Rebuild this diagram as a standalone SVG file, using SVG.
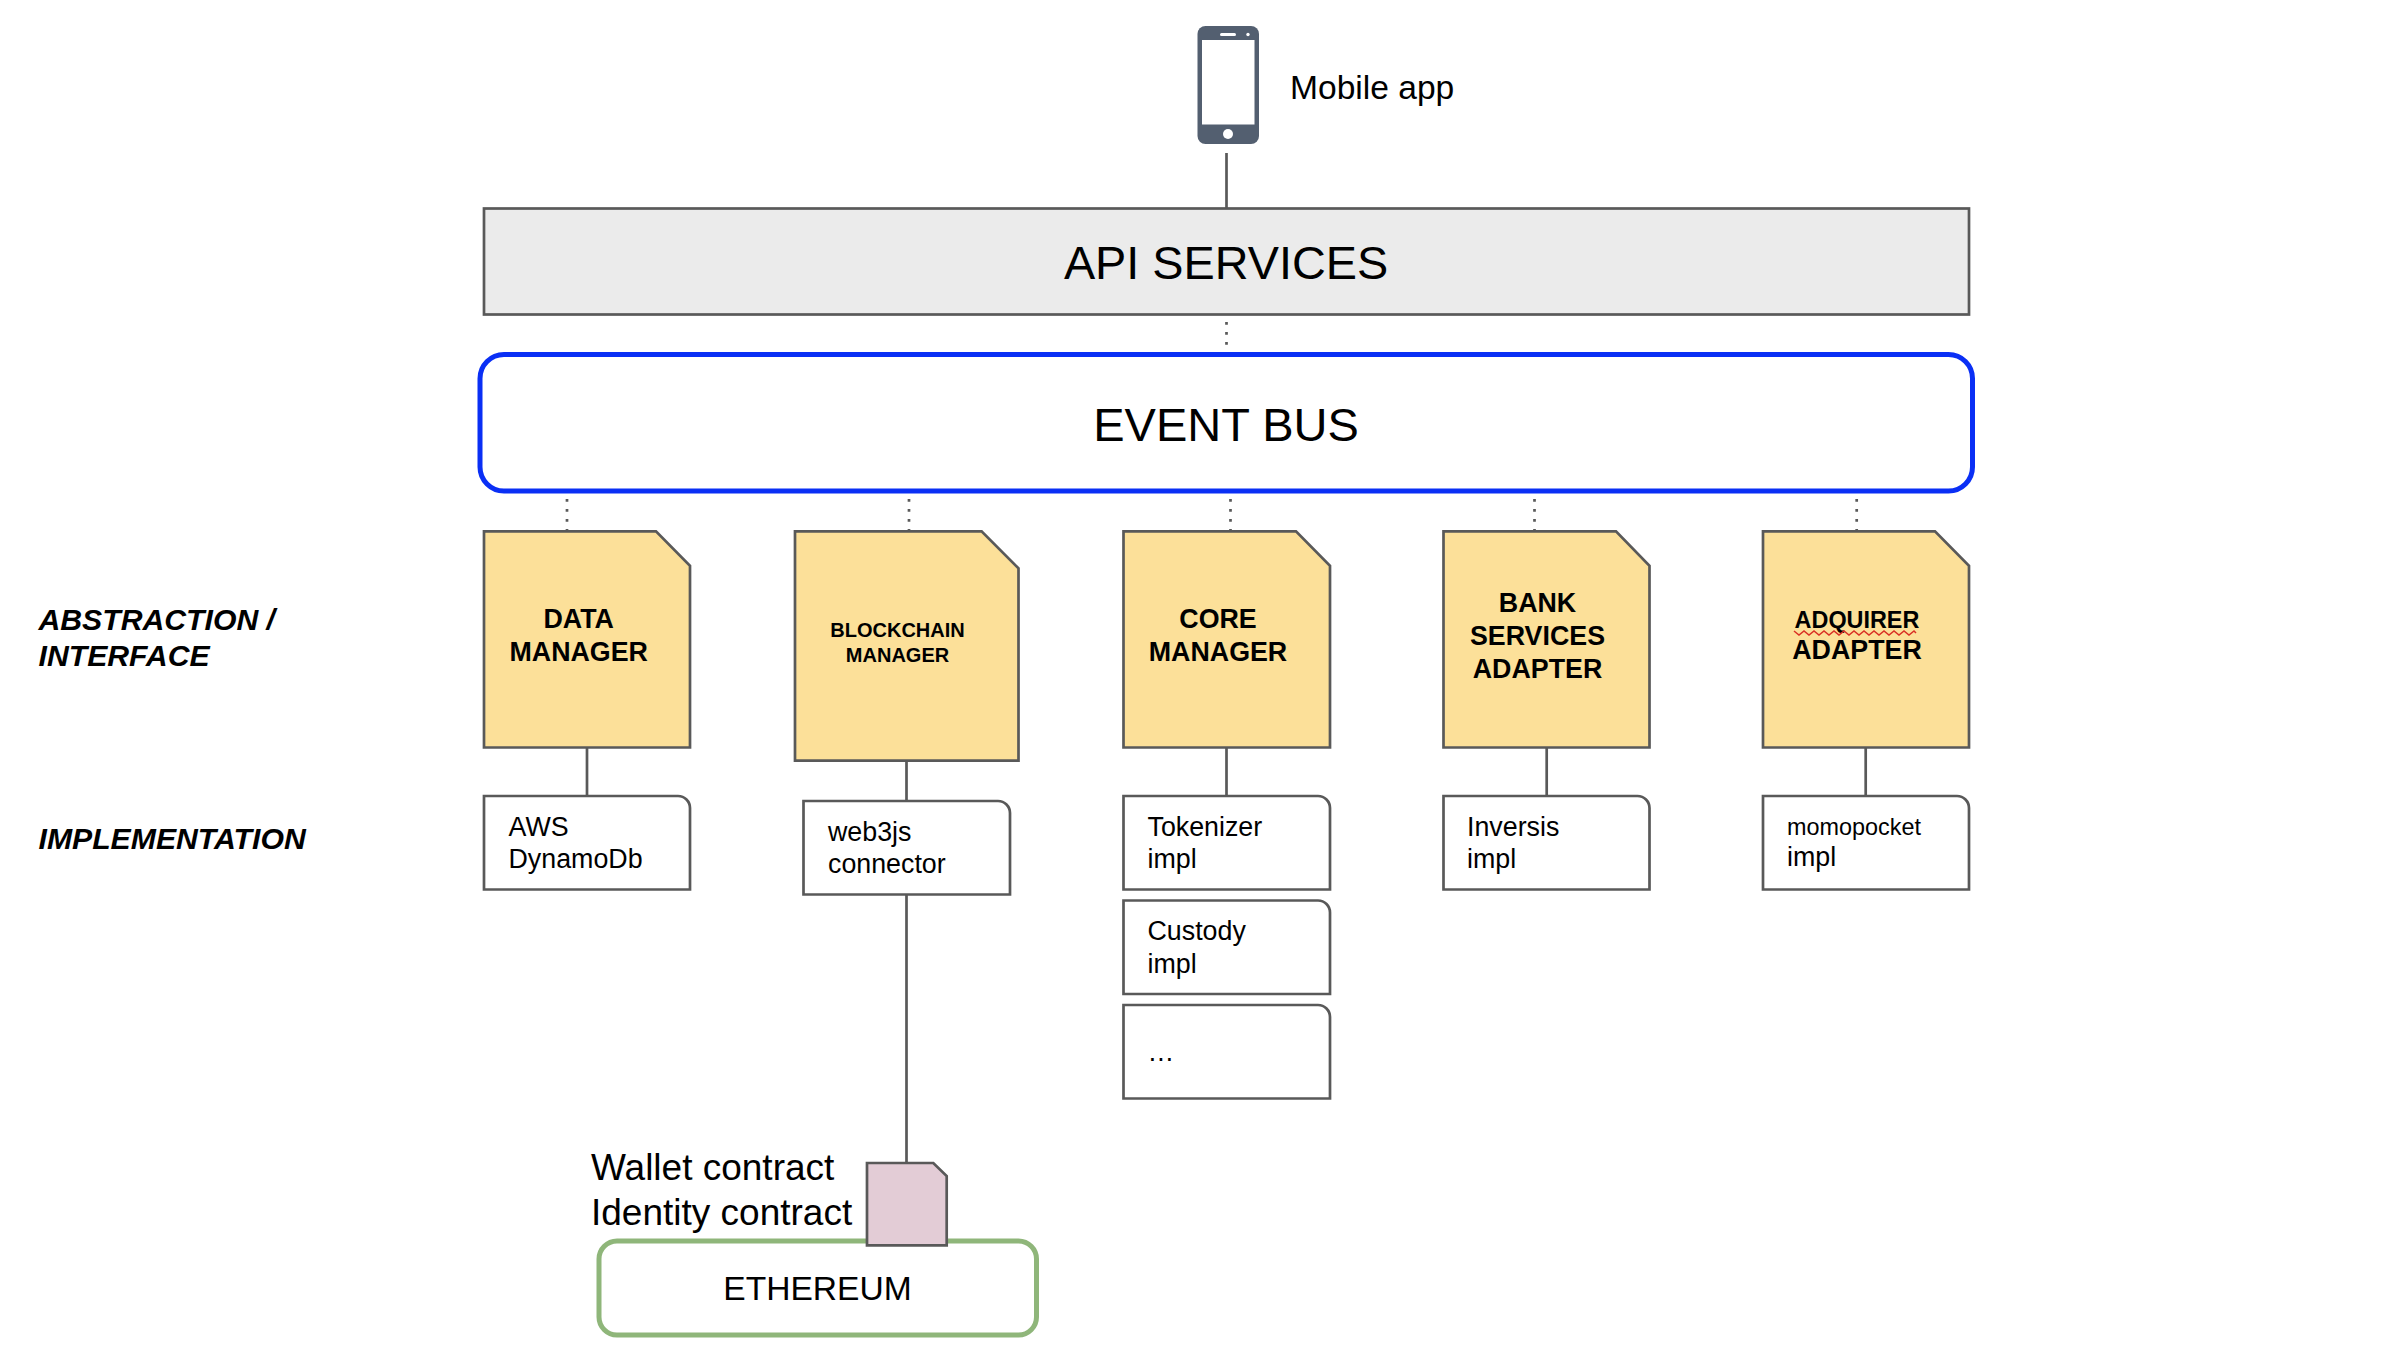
<svg xmlns="http://www.w3.org/2000/svg" width="2408" height="1356" viewBox="0 0 2408 1356">
<style>
text{font-family:"Liberation Sans",Arial,sans-serif;fill:#000}
.s{stroke:#595959;stroke-width:2.7;stroke-linejoin:miter}
.doc{fill:#fce099}
.impl{fill:#fff}
.c{stroke:#595959;stroke-width:2.7;fill:none}
.d{stroke:#595959;stroke-width:2.7;fill:none;stroke-dasharray:2.7 7.3}
.m{text-anchor:middle}
.b{font-weight:700;font-size:26.8px;text-anchor:middle}
.t{font-size:26.8px}
.l{font-weight:700;font-style:italic;font-size:30.2px}
</style>
<rect width="2408" height="1356" fill="#fff"/>
<g id="connectors">
<path class="c" d="M1226.500 153V208"/>
<path class="d" d="M1226.500 322V356"/>
<path class="d" d="M567 499V531M909 499V531M1230.500 499V531M1534.500 499V531M1856.700 499V531"/>
<path class="c" d="M587 747V796M906.500 761V801M1226.500 747V796M1546.700 747V796M1865.700 747V796M906.500 894V1163"/>
</g>
<g id="mobile-app">
<rect x="1197.500" y="26" width="61.500" height="118" rx="8" fill="#535f70"/>
<rect x="1202" y="40" width="52.500" height="84.500" fill="#fff"/>
<rect x="1220" y="33" width="16" height="3" rx="1.500" fill="#fff"/>
<circle cx="1248" cy="34.500" r="1.700" fill="#fff"/>
<circle cx="1228" cy="134" r="5" fill="#fff"/>
<text x="1290" y="98.500" font-size="33.600">Mobile app</text>
</g>
<g id="api-services">
<rect class="s" x="484" y="208.500" width="1485" height="106" fill="#ebebeb"/>
<text class="m" x="1226" y="278.500" font-size="46.800">API SERVICES</text>
</g>
<g id="event-bus">
<rect x="480" y="354.500" width="1492.500" height="136.500" rx="24" fill="#fff" stroke="#0a2ff5" stroke-width="5"/>
<text class="m" x="1226" y="440.700" font-size="47">EVENT BUS</text>
</g>
<g id="data-manager">
<path class="s doc" d="M484 531.300H656L690 565.700V747.500H484Z"/>
<text class="b" x="578.700" y="627.700">DATA</text><text class="b" x="578.700" y="660.700">MANAGER</text>
</g>
<g id="blockchain-manager">
<path class="s doc" d="M795 531.300H981.600L1018.500 568.300V760.700H795Z"/>
<text class="b" style="font-size:20px" x="897.500" y="636.700">BLOCKCHAIN</text><text class="b" style="font-size:20px" x="897.500" y="661.700">MANAGER</text>
</g>
<g id="core-manager">
<path class="s doc" d="M1123.500 531.300H1296L1330 565.700V747.500H1123.500Z"/>
<text class="b" x="1218" y="627.700">CORE</text><text class="b" x="1218" y="660.700">MANAGER</text>
</g>
<g id="bank-services-adapter">
<path class="s doc" d="M1443.500 531.300H1616L1649.500 565.700V747.500H1443.500Z"/>
<text class="b" x="1537.500" y="611.500">BANK</text><text class="b" x="1537.500" y="644.500">SERVICES</text><text class="b" x="1537.500" y="677.500">ADAPTER</text>
</g>
<g id="adquirer-adapter">
<path class="s doc" d="M1763 531.300H1935L1969 565.700V747.500H1763Z"/>
<text class="b" style="font-size:23.400px" x="1857" y="627.500">ADQUIRER</text>
<polyline fill="none" stroke="#d93025" stroke-width="1.500" points="1794,631 1799,635 1804,631 1809,635 1814,631 1819,635 1824,631 1829,635 1834,631 1839,635 1844,631 1849,635 1854,631 1859,635 1864,631 1869,635 1874,631 1879,635 1884,631 1889,635 1894,631 1899,635 1904,631 1909,635 1914,631 1916,633"/>
<text class="b" x="1857" y="659">ADAPTER</text>
</g>
<g id="aws-dynamodb">
<path class="s impl" d="M484 796H678A12 12 0 0 1 690 808V889.500H484Z"/>
<text class="t" x="508.500" y="836">AWS</text><text class="t" x="508.500" y="868">DynamoDb</text>
</g>
<g id="web3js-connector">
<path class="s impl" d="M803.500 801H998A12 12 0 0 1 1010 813V894.500H803.500Z"/>
<text class="t" x="828" y="841">web3js</text><text class="t" x="828" y="873">connector</text>
</g>
<g id="tokenizer-impl">
<path class="s impl" d="M1123.500 796H1318A12 12 0 0 1 1330 808V889.500H1123.500Z"/>
<text class="t" x="1147.500" y="836">Tokenizer</text><text class="t" x="1147.500" y="868">impl</text>
</g>
<g id="custody-impl">
<path class="s impl" d="M1123.500 900.500H1318A12 12 0 0 1 1330 912.500V994H1123.500Z"/>
<text class="t" x="1147.500" y="939.500">Custody</text><text class="t" x="1147.500" y="973">impl</text>
</g>
<g id="more-impl">
<path class="s impl" d="M1123.500 1005H1318A12 12 0 0 1 1330 1017V1098.500H1123.500Z"/>
<text class="t" x="1147.500" y="1061">…</text>
</g>
<g id="inversis-impl">
<path class="s impl" d="M1443.500 796H1637.500A12 12 0 0 1 1649.500 808V889.500H1443.500Z"/>
<text class="t" x="1467" y="836">Inversis</text><text class="t" x="1467" y="868">impl</text>
</g>
<g id="momopocket-impl">
<path class="s impl" d="M1763 796H1957A12 12 0 0 1 1969 808V889.500H1763Z"/>
<text class="t" style="font-size:23.400px" x="1787" y="835">momopocket</text><text class="t" x="1787" y="866">impl</text>
</g>
<g id="ethereum">
<rect x="599" y="1241" width="437.500" height="94" rx="18" fill="#fff" stroke="#8fb67a" stroke-width="5"/>
<text class="m" x="817.500" y="1300" font-size="33.600">ETHEREUM</text>
</g>
<g id="contracts">
<path class="s" fill="#e3ccd6" d="M867 1163H933.300L946.700 1176V1245.300H867Z"/>
<text x="591" y="1180" font-size="37">Wallet contract</text>
<text x="591" y="1225" font-size="37">Identity contract</text>
</g>
<g id="labels">
<text class="l" x="38.500" y="630">ABSTRACTION /</text>
<text class="l" x="38.500" y="666">INTERFACE</text>
<text class="l" x="38.500" y="848.700">IMPLEMENTATION</text>
</g>
</svg>
